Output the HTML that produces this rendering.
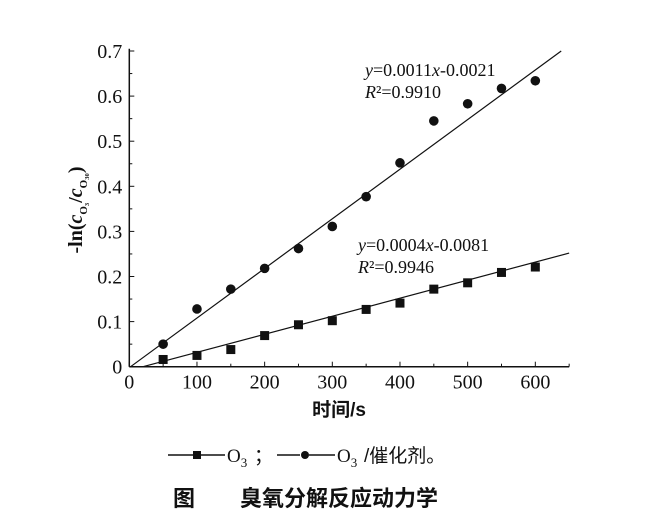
<!DOCTYPE html>
<html><head><meta charset="utf-8"><style>
body{margin:0;background:#fff;width:649px;height:525px;overflow:hidden}
svg text{font-family:"Liberation Serif","Noto Serif CJK SC",serif;fill:#111}
.cn{font-family:"Liberation Sans","Noto Sans CJK SC",sans-serif}
</style></head><body>
<svg id="chart" width="649" height="525" viewBox="0 0 649 525" xmlns="http://www.w3.org/2000/svg">
<g id="axes"></g>
<g id="marks"></g>
<text x="365" y="76" font-size="18"><tspan font-style="italic">y</tspan>=0.0011<tspan font-style="italic">x</tspan>-0.0021</text>
<text x="365" y="98" font-size="18"><tspan font-style="italic">R</tspan>²=0.9910</text>
<text x="358" y="251" font-size="18"><tspan font-style="italic">y</tspan>=0.0004<tspan font-style="italic">x</tspan>-0.0081</text>
<text x="358" y="273" font-size="18"><tspan font-style="italic">R</tspan>²=0.9946</text>
<text transform="translate(82,210) rotate(-90)" text-anchor="middle" font-size="20" font-weight="bold">-ln(<tspan font-style="italic">c</tspan><tspan font-size="11" dy="5">O₃</tspan><tspan dy="-5">/</tspan><tspan font-style="italic">c</tspan><tspan font-size="11" dy="5">O₃₀</tspan><tspan dy="-5">)</tspan></text>
<text class="cn" x="339" y="416" text-anchor="middle" font-size="19" font-weight="bold">时间/s</text>
<g>
<line x1="168" y1="455" x2="200" y2="455" stroke="#111" stroke-width="1.5"/>
<rect x="193" y="451" width="8" height="8" fill="#111"/>
<line x1="201" y1="455" x2="225" y2="455" stroke="#111" stroke-width="1.5"/>
<text x="227" y="462" font-size="19">O<tspan font-size="13" dy="5">3</tspan></text>
<text class="cn" x="254" y="462" font-size="19">；</text>
<line x1="277" y1="455" x2="300" y2="455" stroke="#111" stroke-width="1.5"/>
<circle cx="305" cy="455" r="4" fill="#111"/>
<line x1="309" y1="455" x2="335" y2="455" stroke="#111" stroke-width="1.5"/>
<text x="337" y="462" font-size="19">O<tspan font-size="13" dy="5">3</tspan></text>
<text class="cn" x="364" y="462" font-size="19">/催化剂。</text>
</g>
<text class="cn" x="173" y="506" font-size="22" font-weight="bold">图</text>
<text class="cn" x="240" y="506" font-size="22" font-weight="bold">臭氧分解反应动力学</text>
</svg>
<script>
const times=[50,100,150,200,250,300,350,400,450,500,550,600];
const ozone=[0.016,0.025,0.038,0.069,0.093,0.102,0.127,0.141,0.172,0.186,0.209,0.221];
const catalyst=[0.05,0.128,0.172,0.218,0.262,0.311,0.377,0.452,0.545,0.583,0.617,0.634];
const fitOzone=[0.0004,-0.0081];
const fitCatalyst=[0.0011,-0.0021];
const xTicks=[0,100,200,300,400,500,600];
const yTicks=[0,0.1,0.2,0.3,0.4,0.5,0.6,0.7];
const X0=129.3,Y0=366.7,XS=0.6767,YS=451;
const xs=v=>X0+v*XS, ys=v=>Y0-v*YS;
const NS="http://www.w3.org/2000/svg";
const ax=document.getElementById('axes'),mk=document.getElementById('marks');
function mkEl(t,p,a){const e=document.createElementNS(NS,t);for(const k in a)e.setAttribute(k,a[k]);p.appendChild(e);return e;}
let l=mkEl('line',ax,{x1:X0,y1:ys(0),x2:xs(650),y2:ys(0),stroke:'#111','stroke-width':1.5});


l=mkEl('line',ax,{x1:X0,y1:ys(0),x2:X0,y2:ys(0.705),stroke:'#111','stroke-width':1.5});


xTicks.forEach(v=>{
 mkEl('line',ax,{x1:xs(v),y1:Y0,x2:xs(v),y2:Y0-5,stroke:'#111','stroke-width':1});
 mkEl('line',ax,{x1:xs(v+50),y1:Y0,x2:xs(v+50),y2:Y0-3,stroke:'#111','stroke-width':1});
 const t=mkEl('text',ax,{x:xs(v),y:Y0+22,'text-anchor':'middle','font-size':20});
 t.textContent=v;
 
 
});
yTicks.forEach(v=>{
 mkEl('line',ax,{x1:X0,y1:ys(v),x2:X0+5,y2:ys(v),stroke:'#111','stroke-width':1});
 if(v<0.7)mkEl('line',ax,{x1:X0,y1:ys(v+0.05),x2:X0+3,y2:ys(v+0.05),stroke:'#111','stroke-width':1});
 const t=mkEl('text',ax,{x:X0-7,y:ys(v)+7,'text-anchor':'end','font-size':20});
 t.textContent=v===0?'0':v.toFixed(1);
 
 
});
function fitLine(f,name,xmax){
 const x0=Math.max(0,-f[1]/f[0]);
 const x1=Math.min(xmax,(0.7-f[1])/f[0]);
 const e=mkEl('line',mk,{x1:xs(x0),y1:ys(f[0]*x0+f[1]),x2:xs(x1),y2:ys(f[0]*x1+f[1]),stroke:'#111','stroke-width':1.2});
 
 
}
fitLine(fitCatalyst,'fit-line-catalyst',650);
fitLine(fitOzone,'fit-line-ozone',650);
times.forEach((t,i)=>{
 const c=mkEl('circle',mk,{cx:xs(t),cy:ys(catalyst[i]),r:4.8,fill:'#111'});
 
 
 const r=mkEl('rect',mk,{x:xs(t)-4.5,y:ys(ozone[i])-4.5,width:9,height:9,fill:'#111'});
 
 
});
</script>
</body></html>
